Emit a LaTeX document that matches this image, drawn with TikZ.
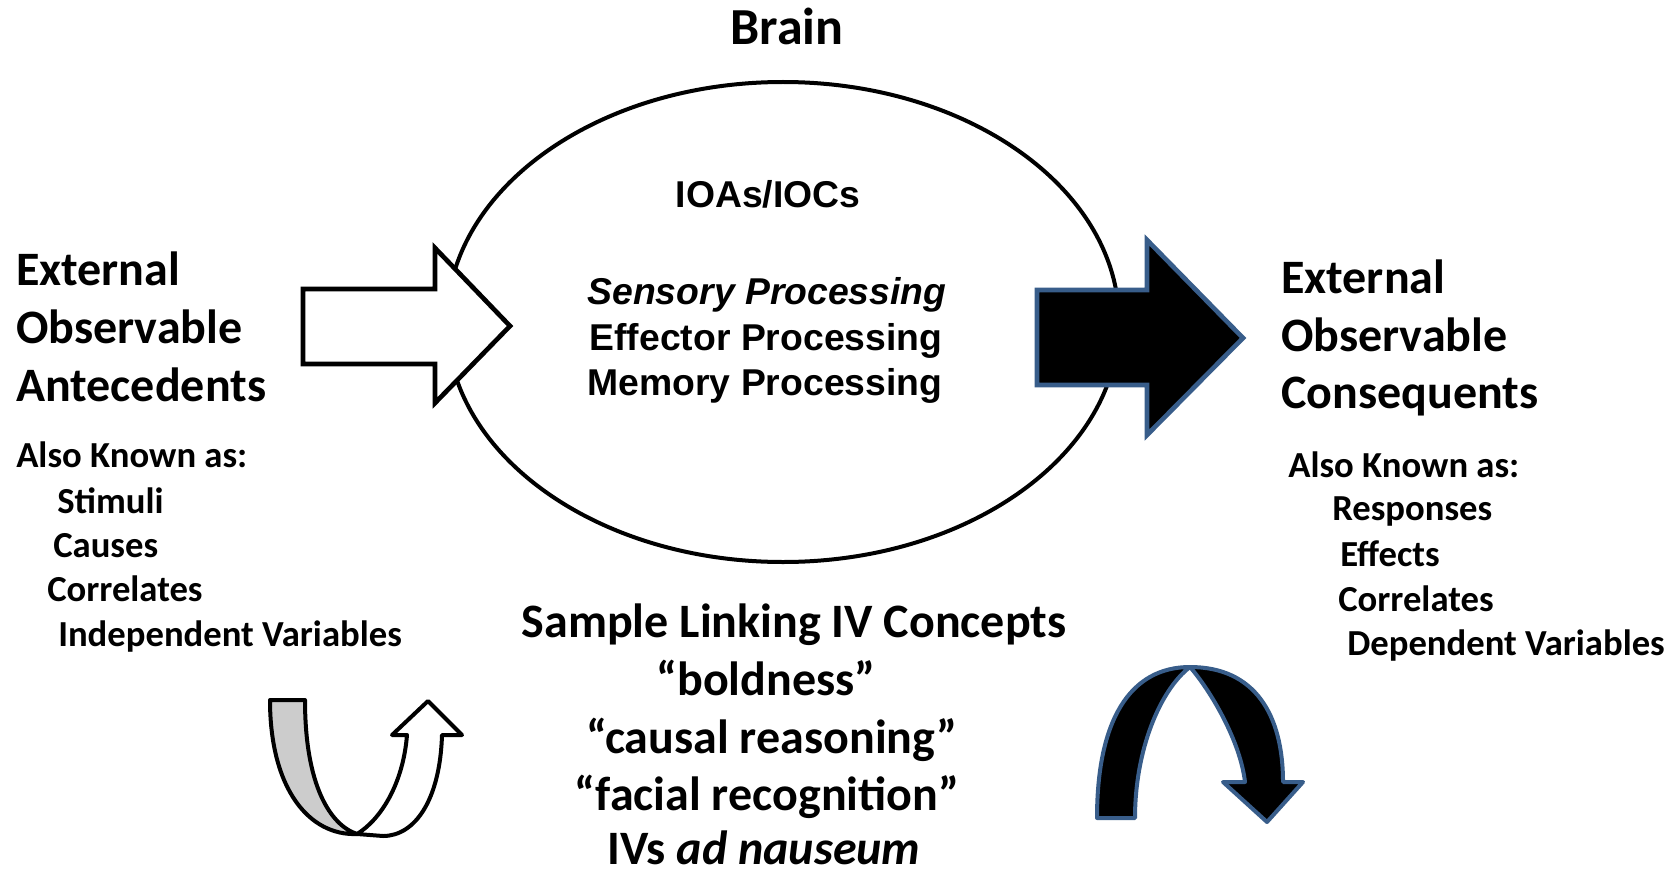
\documentclass[tikz,border=0pt]{standalone}
\usepackage{fontspec}
\setmainfont{Carlito}
\newfontfamily\arialfont{Liberation Sans}
\usetikzlibrary{shapes.geometric}
\definecolor{shapeblue}{RGB}{56,93,138}
\definecolor{bandgray}{RGB}{204,204,204}

\begin{document}
\begin{tikzpicture}[x=0.75pt, y=-0.75pt,
	bigtext/.style={font=\fontsize{36}{43}\selectfont\bfseries, inner sep=0pt},
	akatext/.style={font=\fontsize{27.5}{33}\selectfont\bfseries, inner sep=0pt, anchor=base west},
	braintext/.style={font=\arialfont\fontsize{28}{34}\selectfont\bfseries, inner sep=0pt, anchor=base},
	blockarrow/.style={line width=3.5pt, line join=miter},
	uband/.style={line width=3pt, line join=round}]
	\useasboundingbox (0,0) rectangle (1676,870);
	% the brain
	\node[draw, ellipse, line width=3pt, minimum width=504pt, minimum height=360pt, inner sep=0pt] (brain) at (783,322) {};
	\node[font=\fontsize{39}{47}\selectfont\bfseries, inner sep=0pt, anchor=base] (title) at (787,45) {Brain};
	\node[braintext] (ioa) at (768,207) {IOAs/IOCs};
	\node[braintext] (sensory) at (767,304) {\itshape Sensory Processing};
	\node[braintext] (effector) at (766,350) {Effector Processing};
	\node[braintext] (memory) at (765,395) {Memory Processing};
	% block arrows in and out
	\draw[blockarrow, fill=white] (303,289) -- (435,289) -- (435,248) -- (510,326) -- (435,403) -- (435,364) -- (303,364) -- cycle;
	\draw[blockarrow, draw=shapeblue, fill=black] (1037,290) -- (1147,290) -- (1147,240) -- (1243,338) -- (1147,435) -- (1147,385) -- (1037,385) -- cycle;
	% antecedents
	\node[bigtext, anchor=base west] (extL) at (16,285) {External};
	\node[bigtext, anchor=base west] (obsL) at (16,343) {Observable};
	\node[bigtext, anchor=base west] (antL) at (16,401) {Antecedents};
	\node[akatext] (akaL) at (16,467) {Also Known as:};
	\node[akatext] (stimuli) at (57,513) {Stimuli};
	\node[akatext] (causes) at (53,557) {Causes};
	\node[akatext] (corrL) at (47,601) {Correlates};
	\node[akatext] (indep) at (58,646) {Independent Variables};
	% consequents
	\node[bigtext, anchor=base west] (extR) at (1281,293) {External};
	\node[bigtext, anchor=base west] (obsR) at (1281,351) {Observable};
	\node[bigtext, anchor=base west] (conR) at (1281,408) {Consequents};
	\node[akatext] (akaR) at (1288,477) {Also Known as:};
	\node[akatext] (responses) at (1332,520) {Responses};
	\node[akatext] (effects) at (1340,566) {Effects};
	\node[akatext] (corrR) at (1338,611) {Correlates};
	\node[akatext] (dep) at (1347,655) {Dependent Variables};
	% linking concepts
	\node[bigtext, anchor=base] (sample) at (794,637) {Sample Linking IV Concepts};
	\node[bigtext, anchor=base] (bold) at (766,695) {“boldness”};
	\node[bigtext, anchor=base] (causal) at (772,753) {“causal reasoning”};
	\node[bigtext, anchor=base] (facial) at (767,810) {“facial recognition”};
	\node[bigtext, anchor=base, text depth=0pt] (nauseum) at (764,864) {IVs \textit{ad nauseum}};
	% u-turn arrows
	\draw[uband, fill=bandgray] (270,700) -- (305,700) .. controls (305,785) and (330,825) .. (357,834) .. controls (310,836) and (270,790) .. (270,700) -- cycle;
	\draw[uband, fill=white] (357,834) .. controls (380,820) and (403,785) .. (407,735) -- (392,735) -- (428,701) -- (462,735) -- (442,735) .. controls (440,800) and (415,836) .. (383,836) -- cycle;
	\draw[uband, draw=shapeblue, fill=black] (1097,818) .. controls (1097,720) and (1130,667) .. (1190,667) .. controls (1160,690) and (1135,750) .. (1135,818) -- cycle;
	\draw[uband, draw=shapeblue, fill=black] (1190,667) .. controls (1255,667) and (1283,715) .. (1283,782) -- (1303,782) -- (1267,822) -- (1223,782) -- (1245,782) .. controls (1240,740) and (1210,690) .. (1190,667) -- cycle;
\end{tikzpicture}
\end{document}
